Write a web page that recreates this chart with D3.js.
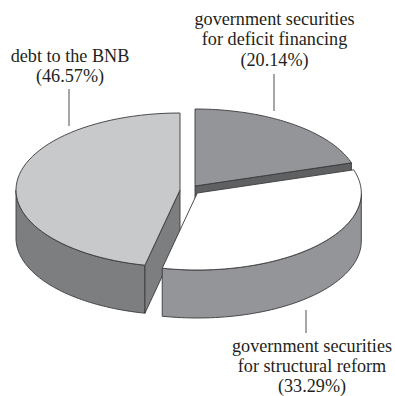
<!DOCTYPE html>
<html>
<head>
<meta charset="utf-8">
<script src="https://cdn.jsdelivr.net/npm/d3@7/dist/d3.min.js"></script>
<style>
html, body { margin: 0; padding: 0; background: #fff; }
svg { display: block; }
text { font-family: "Liberation Serif", serif; font-size: 18.2px; fill: #231f20; }
</style>
</head>
<body>
<svg id="chart" width="395" height="396"></svg>
<script>
// Share of each funding source, clockwise from twelve o'clock
const sources = ["deficit", "reform", "bnb"];
const shares = [20.14, 33.29, 46.57];
const labelLines = [
  ["government securities", "for deficit financing", "(20.14%)"],
  ["government securities", "for structural reform", "(33.29%)"],
  ["debt to the BNB", "(46.57%)"]
];
const labelAnchors = [[274.5, 25], [312, 351.5], [70, 62]];
const leaders = [[274, 74, 111], [306, 310, 333], [69, 89, 126]];
const sliceCentres = [[195, 186], [197.3, 193], [180, 190]];
const topFills = ["#939598", "#ffffff", "#c8c9cb"];
const wallFills = ["#5f6062", "#939598", "#7d7e80"];

const rx = 164, ry = 77, depth = 48;
const lineGap = 20.4;
const outline = "#3a3a3c";

const svg = d3.select("#chart");
const pie = d3.pie().sort(null).value(d => d)(shares);

// Elliptical projection of an angle measured clockwise from the top
const rim = (c, a, dy = 0) => [c[0] + rx * Math.sin(a), c[1] - ry * Math.cos(a) + dy];
const samples = (a0, a1) => d3.range(0, 61).map(i => a0 + (a1 - a0) * i / 60);
const line = d3.line();

function drawSlice(i) {
  const c = sliceCentres[i], s = pie[i];
  const a0 = s.startAngle, a1 = s.endAngle;
  const g = svg.append("g").attr("stroke", outline).attr("stroke-width", 0.9).attr("stroke-linejoin", "round");

  // Outer wall: only the part of the rim facing the viewer
  const w0 = Math.max(a0, Math.PI / 2), w1 = Math.min(a1, Math.PI * 1.5);
  if (w1 > w0) {
    const arcTop = samples(w0, w1).map(a => rim(c, a));
    const arcBottom = samples(w1, w0).map(a => rim(c, a, depth));
    g.append("path").attr("d", line(arcTop.concat(arcBottom)) + "Z").attr("fill", wallFills[i]);
  }

  // Cut faces exposed by pulling the slices apart
  if (sources[i] === "deficit") {
    const e = rim(c, a1);
    g.append("path").attr("d", line([c, e, [e[0], e[1] + depth], [c[0], c[1] + depth]]) + "Z")
      .attr("fill", wallFills[i]);
  }
  if (sources[i] === "bnb") {
    const e = rim(c, a0);
    g.append("path").attr("d", line([c, e, [e[0], e[1] + depth], [c[0], c[1] + depth]]) + "Z")
      .attr("fill", wallFills[i]);
  }

  // Top surface
  g.append("path")
    .attr("d", line([c].concat(samples(a0, a1).map(a => rim(c, a)))) + "Z")
    .attr("fill", topFills[i]);
}

// Painted back to front so the white slice hides the walls behind it
[0, 2, 1].forEach(drawSlice);

svg.append("g").selectAll("line").data(leaders).join("line")
  .attr("x1", d => d[0]).attr("x2", d => d[0])
  .attr("y1", d => d[1]).attr("y2", d => d[2])
  .attr("stroke", "#3a3a3c").attr("stroke-width", 0.9);

const labels = svg.append("g").selectAll("text").data(labelLines).join("text")
  .attr("text-anchor", "middle")
  .attr("transform", (d, i) => `translate(${labelAnchors[i]})`);
labels.selectAll("tspan").data(d => d).join("tspan")
  .attr("x", 0).attr("y", (d, i) => i * lineGap)
  .text(d => d);
</script>
</body>
</html>
